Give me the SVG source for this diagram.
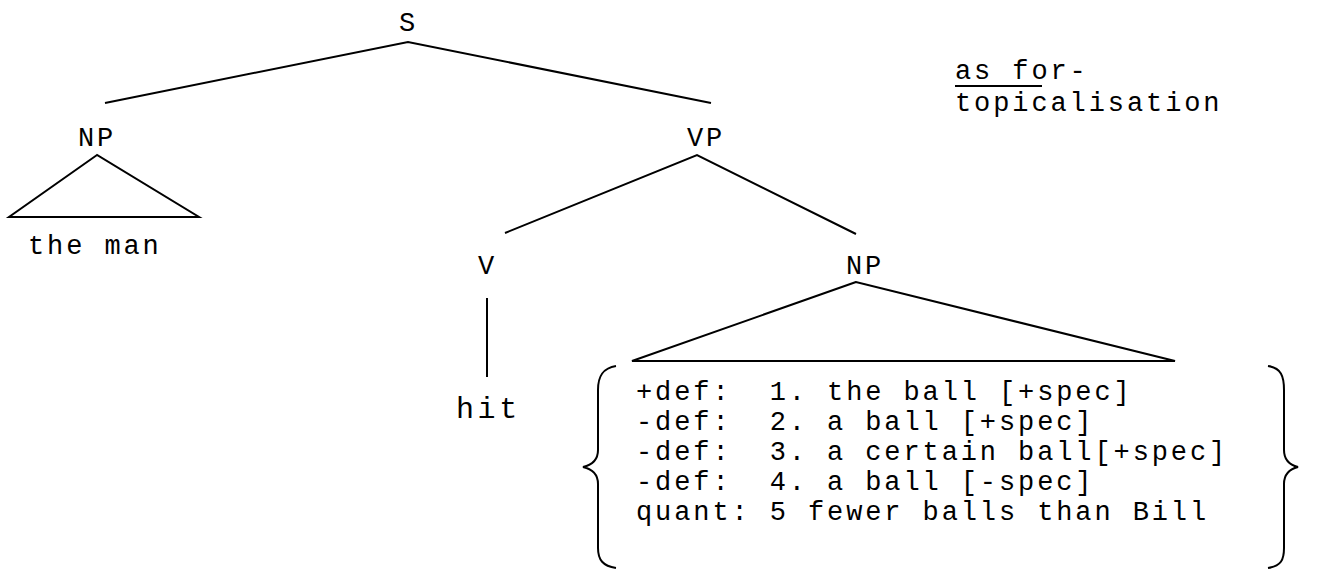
<svg xmlns="http://www.w3.org/2000/svg" width="1331" height="571" viewBox="0 0 1331 571">
<style>
text{font-family:"Liberation Mono","Courier New",monospace;font-size:27px;letter-spacing:2.9px;fill:#000}
.big{font-size:30px;letter-spacing:3.6px}
.ln{stroke:#000;stroke-width:2;fill:none}
</style>
<rect width="1331" height="571" fill="#fff"/>
<g id="connectors" class="ln">
<polyline points="105,103 408,42 711,103"/>
<polyline points="505,233 697,155 856,234"/>
<polygon points="97,155 9,217 199,217"/>
<polygon points="856,282 632,361 1175,361"/>
<line x1="487" y1="298" x2="487" y2="377"/>
<path d="M616,366 C603,368 598,376 598,390 L598,450 C598,460 592,465 583,467 C592,469 598,474 598,484 L598,548 C598,560 603,566 616,568"/>
<path d="M1268,366 C1281,368 1284,376 1284,390 L1284,450 C1284,460 1290,465 1298,467 C1290,469 1284,474 1284,484 L1284,548 C1284,560 1281,566 1268,568"/>
<line x1="955" y1="86" x2="1042" y2="86"/>
</g>
<g id="S"><text x="399" y="31">S</text></g>
<g id="NP1"><text x="78" y="146">NP</text><text x="28" y="254">the man</text></g>
<g id="VP"><text x="687" y="146">VP</text></g>
<g id="V"><text x="478" y="274">V</text></g>
<g id="hit"><text class="big" x="456" y="418">hit</text></g>
<g id="NP2"><text x="846" y="274">NP</text></g>
<g id="list">
<text x="636" y="400" xml:space="preserve">+def:  1. the ball [+spec]</text>
<text x="636" y="430" xml:space="preserve">-def:  2. a ball [+spec]</text>
<text x="636" y="460" xml:space="preserve">-def:  3. a certain ball[+spec]</text>
<text x="636" y="490" xml:space="preserve">-def:  4. a ball [-spec]</text>
<text x="636" y="520" xml:space="preserve">quant: 5 fewer balls than Bill</text>
</g>
<g id="note">
<text x="955" y="79">as for-</text>
<text x="955" y="111">topicalisation</text>
</g>
</svg>
